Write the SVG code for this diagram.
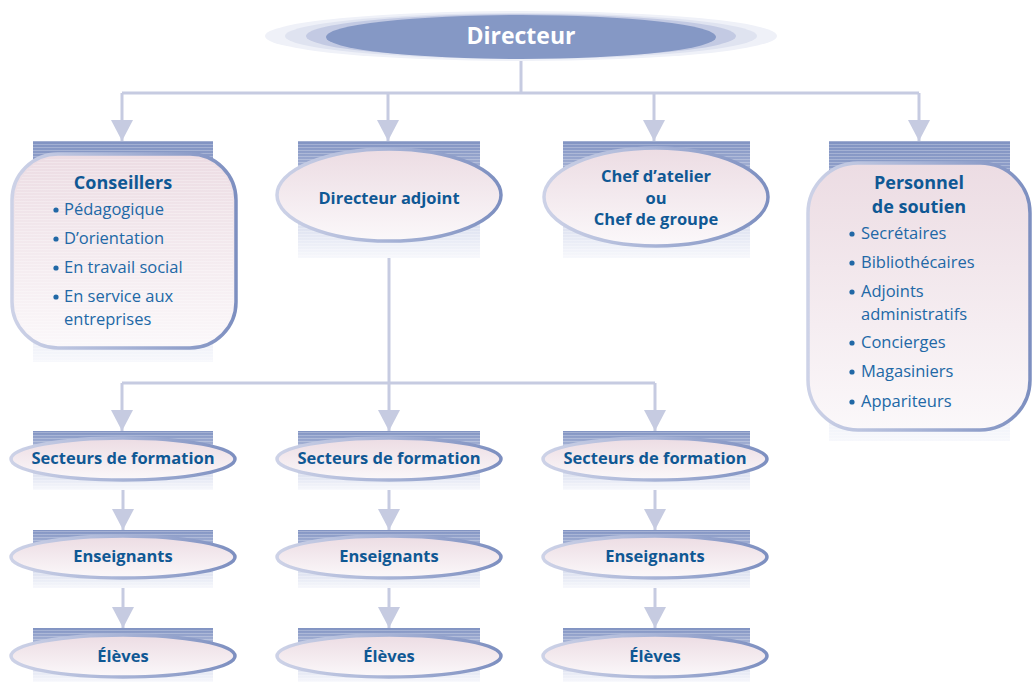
<svg xmlns="http://www.w3.org/2000/svg" width="1033" height="682" viewBox="0 0 1033 682">
<style>
.title{font-family:"Open Sans","Liberation Sans",Arial,sans-serif;font-weight:bold;fill:#0f5894;text-anchor:middle}
.lbl{font-family:"Open Sans","Liberation Sans",Arial,sans-serif;font-weight:bold;font-size:16.5px;fill:#0f5894;text-anchor:middle}
.item{font-family:"Open Sans","Liberation Sans",Arial,sans-serif;font-size:16.5px;fill:#2168a6}
.bul{fill:#2168a6}
.bg{fill:url(#bgG)}
.stripe{fill:url(#stripes)}
.shape{fill:url(#fillG);stroke:url(#strokeG);stroke-width:3.5}
.conn{stroke:#c6cbe1;stroke-width:3;fill:none}
</style>
<defs>
<linearGradient id="bgG" x1="0" y1="0" x2="0" y2="1">
<stop offset="0" stop-color="#8193c2"/>
<stop offset="0.45" stop-color="#c3cbe4"/>
<stop offset="1" stop-color="#f7f8fc"/>
</linearGradient>
<linearGradient id="fillG" x1="0" y1="0" x2="0" y2="1">
<stop offset="0" stop-color="#ecdce3"/>
<stop offset="1" stop-color="#fbf8fa"/>
</linearGradient>
<linearGradient id="strokeG" x1="0" y1="0" x2="1" y2="0">
<stop offset="0" stop-color="#cdd2e7"/>
<stop offset="0.5" stop-color="#a7b3d6"/>
<stop offset="1" stop-color="#7d8fc0"/>
</linearGradient>
<pattern id="stripes" width="4" height="3" patternUnits="userSpaceOnUse">
<rect x="0" y="0" width="4" height="1" fill="#ffffff" fill-opacity="0.25"/>
</pattern>
<marker id="arr" markerUnits="userSpaceOnUse" markerWidth="22" markerHeight="22" refX="21" refY="11" orient="auto" viewBox="0 0 22 22">
<path d="M0,0 L21,11 L0,22 z" fill="#c6cbe1"/>
</marker>
</defs>
<rect width="1033" height="682" fill="#ffffff"/>

<g id="connectors">
<path class="conn" d="M521,58 V93"/>
<path class="conn" d="M122,93 H919"/>
<path class="conn" d="M122,93 V141" marker-end="url(#arr)"/>
<path class="conn" d="M388,93 V141" marker-end="url(#arr)"/>
<path class="conn" d="M654,93 V141" marker-end="url(#arr)"/>
<path class="conn" d="M919,93 V141" marker-end="url(#arr)"/>
<path class="conn" d="M389,230 V383"/>
<path class="conn" d="M122,383 H655"/>
<path class="conn" d="M122,383 V431" marker-end="url(#arr)"/>
<path class="conn" d="M389,383 V431" marker-end="url(#arr)"/>
<path class="conn" d="M655,383 V431" marker-end="url(#arr)"/>
<path class="conn" d="M123,480 V530" marker-end="url(#arr)"/>
<path class="conn" d="M389,480 V530" marker-end="url(#arr)"/>
<path class="conn" d="M655,480 V530" marker-end="url(#arr)"/>
<path class="conn" d="M123,578 V628" marker-end="url(#arr)"/>
<path class="conn" d="M389,578 V628" marker-end="url(#arr)"/>
<path class="conn" d="M655,578 V628" marker-end="url(#arr)"/>
</g>

<g id="directeur">
<ellipse cx="521" cy="36" rx="256" ry="25" fill="#eff1f8"/>
<ellipse cx="521" cy="36" rx="236" ry="23" fill="#dfe3f0"/>
<ellipse cx="521" cy="36" rx="215" ry="22" fill="#c3cae3"/>
<ellipse cx="521" cy="37" rx="195" ry="22" fill="#8598c5"/>
<text class="title" x="521" y="44" font-size="23" style="fill:#ffffff">Directeur</text>
</g>

<g id="conseillers">
<rect class="bg" x="33" y="141" width="180" height="221"/>
<rect class="stripe" x="33" y="141" width="180" height="221"/>
<rect class="shape" x="12" y="154" width="224" height="194" rx="46"/>
<rect class="stripe" x="15" y="157" width="218" height="188" rx="44"/>
<text class="title" x="123" y="189" font-size="18">Conseillers</text>
<circle class="bul" cx="56" cy="210" r="2.6"/><text class="item" x="64" y="215">Pédagogique</text>
<circle class="bul" cx="56" cy="239" r="2.6"/><text class="item" x="64" y="244">D’orientation</text>
<circle class="bul" cx="56" cy="268" r="2.6"/><text class="item" x="64" y="273">En travail social</text>
<circle class="bul" cx="56" cy="297" r="2.6"/><text class="item" x="64" y="302">En service aux</text>
<text class="item" x="64" y="325">entreprises</text>
</g>

<g id="directeur-adjoint">
<rect class="bg" x="298" y="141" width="182" height="117"/>
<rect class="stripe" x="298" y="141" width="182" height="117"/>
<ellipse class="shape" cx="389" cy="195" rx="112" ry="46"/>
<text class="lbl" x="389" y="204">Directeur adjoint</text>
</g>

<g id="chef-atelier">
<rect class="bg" x="563" y="141" width="187" height="117"/>
<rect class="stripe" x="563" y="141" width="187" height="117"/>
<ellipse class="shape" cx="656" cy="197" rx="112" ry="49"/>
<text class="lbl" x="656" y="182">Chef d’atelier</text>
<text class="lbl" x="656" y="204">ou</text>
<text class="lbl" x="656" y="225">Chef de groupe</text>
</g>

<g id="personnel">
<rect class="bg" x="829" y="141" width="181" height="300"/>
<rect class="stripe" x="829" y="141" width="181" height="300"/>
<rect class="shape" x="808" y="163" width="222" height="267" rx="50"/>
<text class="title" x="919" y="189" font-size="18">Personnel</text>
<text class="title" x="919" y="213" font-size="18">de soutien</text>
<circle class="bul" cx="852" cy="234" r="2.6"/><text class="item" x="861" y="239">Secrétaires</text>
<circle class="bul" cx="852" cy="263" r="2.6"/><text class="item" x="861" y="268">Bibliothécaires</text>
<circle class="bul" cx="852" cy="292" r="2.6"/><text class="item" x="861" y="297">Adjoints</text>
<text class="item" x="861" y="320">administratifs</text>
<circle class="bul" cx="852" cy="343" r="2.6"/><text class="item" x="861" y="348">Concierges</text>
<circle class="bul" cx="852" cy="372" r="2.6"/><text class="item" x="861" y="377">Magasiniers</text>
<circle class="bul" cx="852" cy="402" r="2.6"/><text class="item" x="861" y="407">Appariteurs</text>
</g>

<g id="secteurs-1">
<rect class="bg" x="33" y="431" width="180" height="59"/><rect class="stripe" x="33" y="431" width="180" height="59"/>
<ellipse class="shape" cx="123" cy="459" rx="112" ry="21"/>
<text class="lbl" x="123" y="464">Secteurs de formation</text>
</g>
<g id="secteurs-2">
<rect class="bg" x="298" y="431" width="182" height="59"/><rect class="stripe" x="298" y="431" width="182" height="59"/>
<ellipse class="shape" cx="389" cy="459" rx="112" ry="21"/>
<text class="lbl" x="389" y="464">Secteurs de formation</text>
</g>
<g id="secteurs-3">
<rect class="bg" x="563" y="431" width="187" height="59"/><rect class="stripe" x="563" y="431" width="187" height="59"/>
<ellipse class="shape" cx="655" cy="459" rx="112" ry="21"/>
<text class="lbl" x="655" y="464">Secteurs de formation</text>
</g>

<g id="enseignants-1">
<rect class="bg" x="33" y="530" width="180" height="58"/><rect class="stripe" x="33" y="530" width="180" height="58"/>
<ellipse class="shape" cx="123" cy="557" rx="112" ry="21"/>
<text class="lbl" x="123" y="562">Enseignants</text>
</g>
<g id="enseignants-2">
<rect class="bg" x="298" y="530" width="182" height="58"/><rect class="stripe" x="298" y="530" width="182" height="58"/>
<ellipse class="shape" cx="389" cy="557" rx="112" ry="21"/>
<text class="lbl" x="389" y="562">Enseignants</text>
</g>
<g id="enseignants-3">
<rect class="bg" x="563" y="530" width="187" height="58"/><rect class="stripe" x="563" y="530" width="187" height="58"/>
<ellipse class="shape" cx="655" cy="557" rx="112" ry="21"/>
<text class="lbl" x="655" y="562">Enseignants</text>
</g>

<g id="eleves-1">
<rect class="bg" x="33" y="628" width="180" height="54"/><rect class="stripe" x="33" y="628" width="180" height="54"/>
<ellipse class="shape" cx="123" cy="656" rx="112" ry="21"/>
<text class="lbl" x="123" y="662">Élèves</text>
</g>
<g id="eleves-2">
<rect class="bg" x="298" y="628" width="182" height="54"/><rect class="stripe" x="298" y="628" width="182" height="54"/>
<ellipse class="shape" cx="389" cy="656" rx="112" ry="21"/>
<text class="lbl" x="389" y="662">Élèves</text>
</g>
<g id="eleves-3">
<rect class="bg" x="563" y="628" width="187" height="54"/><rect class="stripe" x="563" y="628" width="187" height="54"/>
<ellipse class="shape" cx="655" cy="656" rx="112" ry="21"/>
<text class="lbl" x="655" y="662">Élèves</text>
</g>
</svg>
